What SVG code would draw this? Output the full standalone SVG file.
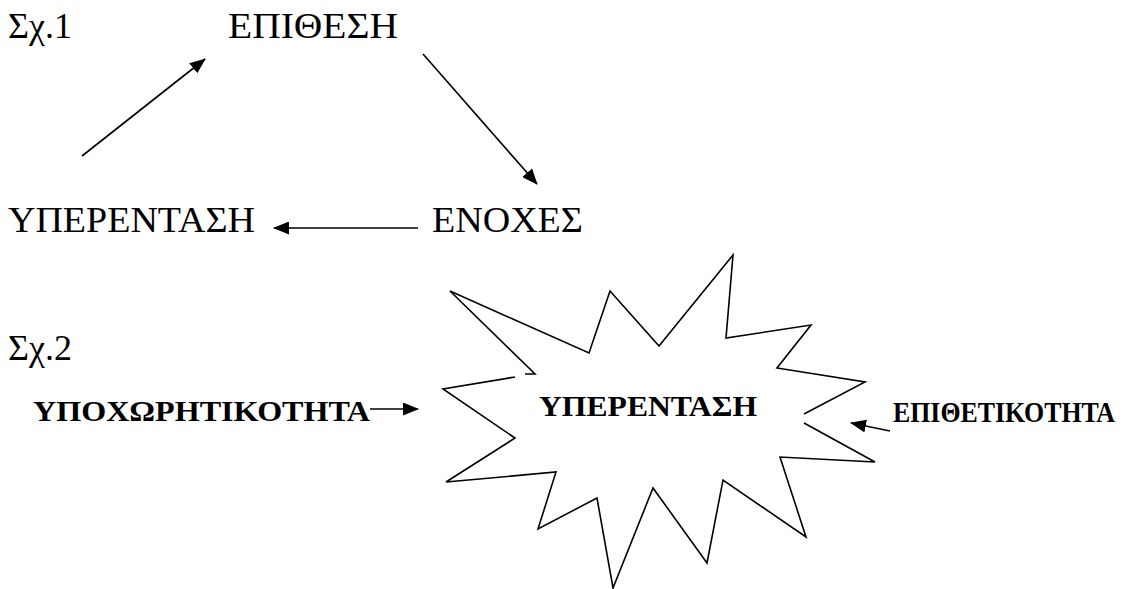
<svg xmlns="http://www.w3.org/2000/svg" width="1132" height="589" viewBox="0 0 1132 589">
<style>
.t{font-family:"Liberation Serif","Times New Roman",serif;fill:#000}
.r{font-size:36px}
.b{font-weight:bold;font-size:30px}
.c{stroke:#000;stroke-width:1.6;fill:none}
</style>
<defs>
<marker id="ah" viewBox="0 0 16 13" refX="15" refY="6.5" markerWidth="16" markerHeight="13" markerUnits="userSpaceOnUse" orient="auto">
<path d="M0,0 L16,6.5 L0,13 Z" fill="#000"/>
</marker>
</defs>
<rect width="1132" height="589" fill="#fff"/>
<g id="label1"><text class="t r" x="8" y="38" textLength="64" lengthAdjust="spacingAndGlyphs">Σχ.1</text></g>
<g id="epithesi"><text class="t r" x="228" y="38" textLength="170" lengthAdjust="spacingAndGlyphs">ΕΠΙΘΕΣΗ</text></g>
<g id="yperentasi1"><text class="t r" x="8" y="232" textLength="247" lengthAdjust="spacingAndGlyphs">ΥΠΕΡΕΝΤΑΣΗ</text></g>
<g id="enoxes"><text class="t r" x="432" y="232" textLength="151" lengthAdjust="spacingAndGlyphs">ΕΝΟΧΕΣ</text></g>
<g id="label2"><text class="t r" x="8" y="360" textLength="64" lengthAdjust="spacingAndGlyphs">Σχ.2</text></g>
<g id="ypoxoritikotita"><text class="t b" x="33" y="421" font-size="28" textLength="337" lengthAdjust="spacingAndGlyphs">ΥΠΟΧΩΡΗΤΙΚΟΤΗΤΑ</text></g>
<g id="burst">
<path class="c" stroke-linejoin="miter" d="M525,374 L535,374 L450,291 L589,353 L610,291 L659,346 L733,255 L726,338 L811,325 L777,368 L865,382 L804,414 M804,423 L875,462 L780,457 L806,537 L723,480 L707,563 L653,488 L613,588 L597,498 L538,529 L556,472 L446,482 L515,438 L443,389 L515,377"/>
<text class="t b" x="539" y="416" textLength="218" lengthAdjust="spacingAndGlyphs">ΥΠΕΡΕΝΤΑΣΗ</text>
</g>
<g id="epithetikotita"><text class="t b" x="893" y="422" font-size="21" textLength="222" lengthAdjust="spacingAndGlyphs">ΕΠΙΘΕΤΙΚΟΤΗΤΑ</text></g>
<g id="connectors" class="c">
<line x1="82" y1="156" x2="205" y2="59" marker-end="url(#ah)"/>
<line x1="423" y1="54" x2="537" y2="184" marker-end="url(#ah)"/>
<line x1="418" y1="228" x2="274" y2="228" marker-end="url(#ah)"/>
<line x1="370" y1="409" x2="418" y2="409" marker-end="url(#ah)"/>
<line x1="890" y1="431" x2="851" y2="423" marker-end="url(#ah)"/>
</g>
</svg>
